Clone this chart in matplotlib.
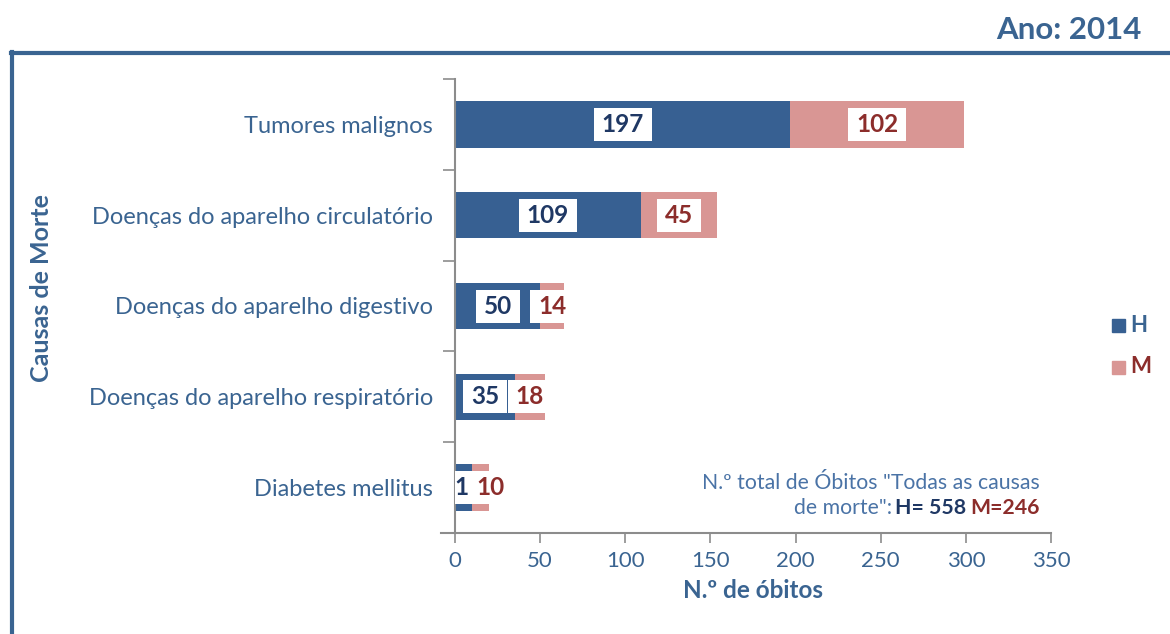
import matplotlib
matplotlib.use('Agg')
import matplotlib.pyplot as plt
from matplotlib.lines import Line2D
from matplotlib.patches import Rectangle
import numpy as np

plt.rcParams['font.family'] = ['Lato', 'DejaVu Sans']

causas = ['Tumores malignos', 'Doenças do aparelho circulatório',
          'Doenças do aparelho digestivo', 'Doenças do aparelho respiratório',
          'Diabetes mellitus']
homens = [197, 109, 50, 35, 10]
mulheres = [102, 45, 14, 18, 10]
rotulos_h = ['197', '109', '50', '35', '1']
rotulos_m = ['102', '45', '14', '18', '10']
total_h = 558
total_m = 246
ano = 2014

cor_h = '#376092'
cor_m = '#D99694'
txt_azul = '#3A6491'
txt_h = '#1F3864'
txt_m = '#8C2D2B'
cinza = '#8C8C8C'

W, H = 1170, 634
fig = plt.figure(figsize=(W / 100, H / 100), dpi=100)

def fx(px):
    return px / W

def fy(py):
    return 1 - py / H

# moldura azul
fig.add_artist(Line2D([fx(12), fx(12)], [fy(52), 0], color=txt_azul, lw=3, transform=fig.transFigure))
fig.add_artist(Line2D([fx(10.5), 1], [fy(53), fy(53)], color=txt_azul, lw=3, transform=fig.transFigure))

ax = fig.add_axes([fx(455), fy(533), fx(1051) - fx(455), fy(79) - fy(533)])
y = np.arange(len(causas))
alt = 0.51
ax.barh(y, homens, height=alt, color=cor_h, zorder=2)
ax.barh(y, mulheres, left=homens, height=alt, color=cor_m, zorder=2)

ax.set_xlim(0, 350)
ax.set_ylim(len(causas) - 0.5, -0.5)

r = fig.canvas.get_renderer()

def rotulo(x, yy, s, cor, z):
    t = ax.text(x, yy, s, ha='center', va='center', fontsize=17.5,
                fontweight='bold', color=cor, zorder=z + 1)
    bb = t.get_window_extent(r)
    cx, cy = ax.transData.transform((x, yy))
    x0, y0 = ax.transData.inverted().transform((bb.x0 - 8, cy - 16.5))
    x1, y1 = ax.transData.inverted().transform((bb.x1 + 8, cy + 16.5))
    ax.add_patch(Rectangle((x0, y0), x1 - x0, y1 - y0, fc='white', ec='none', zorder=z))

for i in range(len(causas)):
    ch = homens[i] / 2
    cm = homens[i] + mulheres[i] / 2
    if i == 4:
        ch, cm = 4, 21
    rotulo(ch, y[i], rotulos_h[i], txt_h, 3)
    rotulo(cm, y[i], rotulos_m[i], txt_m, 5)

ax.set_yticks(y)
ax.set_yticklabels(causas, fontsize=17, color=txt_azul)
ax.set_yticks(np.arange(len(causas) + 1) - 0.5, minor=True)
ax.tick_params(axis='y', which='major', length=0, pad=16)
ax.tick_params(axis='y', which='minor', length=9, color=cinza, width=1.2)
ax.set_xticks(np.arange(0, 351, 50))
ax.tick_params(axis='x', length=7, color=cinza, width=1.2, labelsize=16,
               labelcolor=txt_azul, pad=6)
for s in ['top', 'right']:
    ax.spines[s].set_visible(False)
for s in ['left', 'bottom']:
    ax.spines[s].set_color(cinza)
    ax.spines[s].set_linewidth(1.5)
ax.spines['bottom'].set_bounds(-8, 350)
ax.set_xlabel('N.º de óbitos', fontsize=17.5, fontweight='bold', color=txt_azul, labelpad=6)

fig.text(fx(42), fy(288), 'Causas de Morte', rotation=90, ha='center', va='center',
         fontsize=18, fontweight='bold', color=txt_azul)

fig.text(fx(1142), fy(30), 'Ano: ' + str(ano), ha='right', va='center',
         fontsize=22.5, fontweight='bold', color=txt_azul)

# legenda
fig.add_artist(Rectangle((fx(1112), fy(332)), fx(13), 13 / H, color=cor_h, transform=fig.transFigure))
fig.text(fx(1130), fy(325), 'H', ha='left', va='center', fontsize=16, fontweight='bold', color=txt_azul)
fig.add_artist(Rectangle((fx(1112), fy(374)), fx(13), 13 / H, color=cor_m, transform=fig.transFigure))
fig.text(fx(1130), fy(367), 'M', ha='left', va='center', fontsize=16, fontweight='bold', color=txt_m)

# nota com totais
cor_nota = '#4A73A6'
fig.text(fx(1040), fy(483), 'N.º total de Óbitos "Todas as causas', ha='right', va='center',
         fontsize=15.3, color=cor_nota)
t3 = fig.text(fx(1040), fy(508), 'M=' + str(total_m), ha='right', va='center',
              fontsize=15.3, fontweight='bold', color=txt_m)
w3 = t3.get_window_extent(r).width
t2 = fig.text(fx(1040 - w3 - 4), fy(508), 'H= ' + str(total_h), ha='right', va='center',
              fontsize=15.3, fontweight='bold', color=txt_h)
w2 = t2.get_window_extent(r).width
fig.text(fx(1040 - w3 - 4 - w2 - 3), fy(508), 'de morte":', ha='right', va='center',
         fontsize=15.3, color=cor_nota)

fig.savefig('out.png', dpi=100)
